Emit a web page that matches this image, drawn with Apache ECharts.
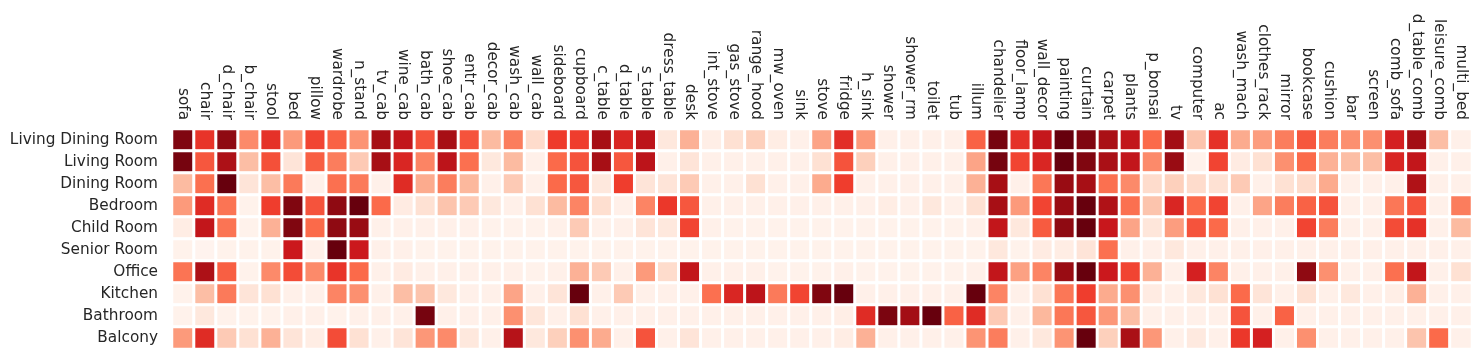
<!DOCTYPE html>
<html>
<head>
<meta charset="utf-8">
<script src="https://cdn.jsdelivr.net/npm/echarts@6/dist/echarts.min.js"></script>
<style>
  html, body { margin: 0; padding: 0; background: #fff; }
  #chart { width: 1484px; height: 360px; }
</style>
</head>
<body>
<div id="chart"></div>
<script>
// furniture (columns)
const items = ['sofa','chair','d_chair','b_chair','stool','bed','pillow','wardrobe','n_stand','tv_cab',
  'wine_cab','bath_cab','shoe_cab','entr_cab','decor_cab','wash_cab','wall_cab','sideboard','cupboard','c_table',
  'd_table','s_table','dress_table','desk','int_stove','gas_stove','range_hood','mw_oven','sink','stove',
  'fridge','h_sink','shower','shower_rm','toilet','tub','illum','chandelier','floor_lamp','wall_decor',
  'painting','curtain','carpet','plants','p_bonsai','tv','computer','ac','wash_mach','clothes_rack',
  'mirror','bookcase','cushion','bar','screen','comb_sofa','d_table_comb','leisure_comb','multi_bed'];

// room types (rows)
const rooms = ['Living Dining Room','Living Room','Dining Room','Bedroom','Child Room',
  'Senior Room','Office','Kitchen','Bathroom','Balcony'];

// one array per room, same order as items (0-100)
const livingDining = [95,65,92,40,66,35,60,52,37,87, 78,56,87,56,25,44,14,63,62,87, 70,80,8,28,4,12,18,5,3,32,
  67,35,3,3,3,3,52,97,66,77, 100,95,86,78,50,88,22,66,30,34, 44,55,44,38,38,72,88,24,3];
const living = [97,55,85,24,57,10,53,44,20,87, 70,42,80,48,8,25,3,50,56,87, 55,80,3,10,3,3,3,3,3,12,
  56,18,3,3,3,3,32,97,60,70, 100,95,86,78,40,90,2,60,6,12, 38,50,28,24,24,70,78,3,3];
const dining = [25,48,100,10,24,45,3,48,45,3, 68,30,44,26,3,20,3,50,55,8, 62,10,10,20,3,3,12,3,3,30,
  62,3,3,3,3,3,28,87,3,46, 90,87,48,40,14,18,14,12,20,3, 12,14,30,3,3,3,84,3,3];
const bedroom = [35,68,47,2,62,95,56,92,100,50, 6,12,22,20,8,3,12,25,42,13, 3,42,64,55,3,3,3,3,3,3,
  3,3,5,3,8,3,12,87,35,60, 90,100,84,48,22,70,50,60,3,32, 44,52,56,3,3,46,56,3,44];
const child = [5,78,47,2,28,95,50,92,90,3, 3,3,3,3,2,2,2,3,20,3, 3,10,8,60,3,2,2,2,2,2,
  2,2,2,2,2,2,3,78,8,54, 92,100,76,32,9,34,56,50,3,3, 3,60,44,3,3,58,66,3,25];
const senior = [2,1,2,2,2,75,3,100,75,3, 3,2,2,2,2,2,2,2,2,2, 2,2,2,2,2,2,2,2,2,2,
  2,2,2,2,2,2,2,8,2,6, 5,10,48,3,3,8,3,3,3,3, 3,3,3,3,3,3,3,3,3];
const office = [47,85,53,2,40,58,40,65,50,3, 6,3,3,3,3,3,2,3,28,20, 3,35,14,78,3,3,3,2,2,2,
  3,2,2,2,2,2,3,78,33,42, 90,100,75,60,28,3,72,42,3,3, 3,92,38,3,3,48,78,3,12];
const kitchen = [2,24,45,10,12,3,3,42,38,3, 24,22,8,3,3,32,3,10,100,3, 20,3,3,3,48,70,80,45,60,95,
  100,3,3,3,3,3,100,42,3,12, 46,62,30,38,6,3,8,12,50,10, 3,12,3,8,3,4,28,3,3];
const bathroom = [2,8,2,2,2,3,3,2,3,3, 3,97,3,3,3,38,9,3,12,3, 3,3,3,3,3,3,3,3,3,3,
  4,68,96,88,100,52,68,20,3,26, 46,55,36,24,3,3,3,3,56,3, 52,3,3,3,3,3,3,3,3];
const balcony = [35,68,20,12,28,10,5,58,12,3, 10,36,40,8,3,82,8,18,38,30, 3,56,3,10,3,3,3,3,3,3,
  5,28,3,3,3,3,37,44,3,8, 37,100,18,86,36,3,7,3,64,72, 3,38,3,3,3,3,22,50,3];

const rows = [livingDining, living, dining, bedroom, child, senior, office, kitchen, bathroom, balcony];

const data = [];
rows.forEach((vals, r) => {
  vals.forEach((v, c) => data.push([c, r, v]));
});

const chart = echarts.init(document.getElementById('chart'));
const fontFamily = 'DejaVu Sans';

chart.setOption({
  backgroundColor: '#fff',
  animation: false,
  grid: { left: 172, right: 12, top: 129, bottom: 11 },
  xAxis: {
    type: 'category',
    position: 'top',
    data: items,
    axisLine: { show: false },
    axisTick: { show: false },
    splitLine: { show: false },
    axisLabel: {
      rotate: 90,
      interval: 0,
      margin: 9,
      fontSize: 15.3,
      fontFamily: fontFamily,
      color: '#262626'
    }
  },
  yAxis: {
    type: 'category',
    inverse: true,
    data: rooms,
    axisLine: { show: false },
    axisTick: { show: false },
    splitLine: { show: false },
    axisLabel: {
      margin: 14,
      fontSize: 15.3,
      fontFamily: fontFamily,
      color: '#262626'
    }
  },
  visualMap: {
    show: false,
    min: 0,
    max: 100,
    inRange: {
      color: ['#fff5f0','#fee0d2','#fcbba1','#fc9272','#fb6a4a','#ef3b2c','#cb181d','#a50f15','#67000d']
    }
  },
  series: [{
    type: 'heatmap',
    data: data,
    itemStyle: { borderColor: '#fff', borderWidth: 3 },
    emphasis: { disabled: true }
  }]
});
</script>
</body>
</html>
